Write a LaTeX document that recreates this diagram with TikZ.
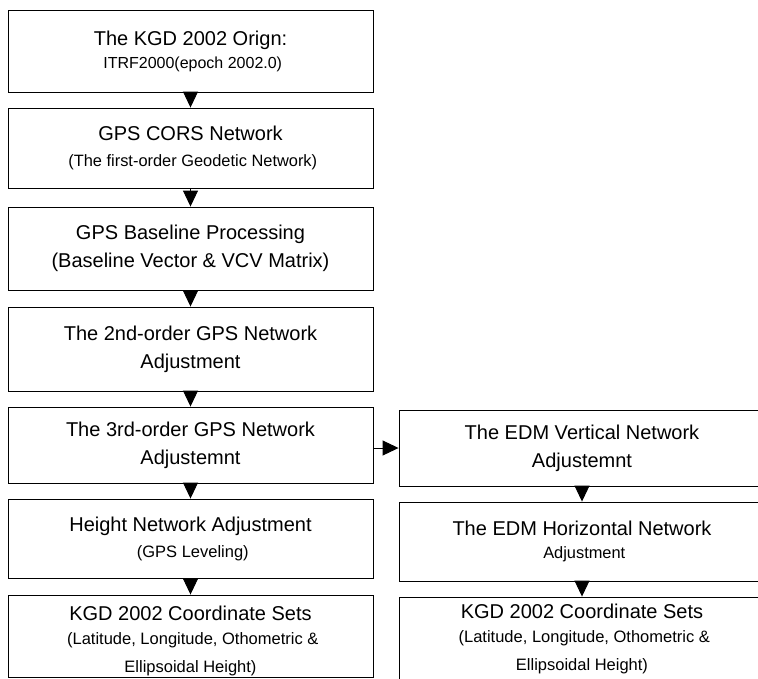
\documentclass[tikz,border=0pt]{standalone}
\usepackage{fontspec}
\setmainfont{Liberation Sans}
\usetikzlibrary{arrows.meta}

\newcommand{\subsize}[1]{\fontsize{#1}{22}\selectfont}

\begin{document}
\begin{tikzpicture}[x=1pt, y=-1pt,
    box/.style={draw, line width=0.9pt, rectangle, inner sep=0pt, align=center,
        font=\fontsize{20}{28}\selectfont},
    leftbox/.style={box, minimum width=365pt},
    rightbox/.style={box, minimum width=366pt},
    arr/.style={line width=0.9pt, -{Triangle[length=16pt, width=15pt]}}]
    \useasboundingbox (0,0) rectangle (758,678);

    % Left column of steps
    \node[leftbox, minimum height=82pt] (L1) at (190.5,51)
        {The KGD 2002 Orign:\\[-5pt]\subsize{16} ITRF2000(epoch 2002.0)};
    \node[leftbox, minimum height=80pt] (L2) at (190.5,148)
        {GPS CORS Network\\[-2pt]\subsize{16.4} (The first-order Geodetic Network)};
    \node[leftbox, minimum height=83pt] (L3) at (190.5,248.5)
        {GPS Baseline Processing\\(Baseline Vector \& VCV Matrix)};
    \node[leftbox, minimum height=84pt] (L4) at (190.5,349)
        {The 2nd-order GPS Network\\Adjustment};
    \node[leftbox, minimum height=76pt] (L5) at (190.5,445)
        {The 3rd-order GPS Network\\Adjustemnt};
    \node[leftbox, minimum height=79pt] (L6) at (190.5,538.5)
        {Height Network Adjustment\\[-2pt]\subsize{16.5} (GPS Leveling)};
    \node[leftbox, minimum height=82pt] (L7) at (190.5,636)
        {\rule{0pt}{24pt}KGD 2002 Coordinate Sets\\[-4pt]\subsize{16.5}
         (Latitude, Longitude, Othometric \&\\\subsize{16.5}Ellipsoidal Height)};

    % Right column of steps
    \node[rightbox, minimum height=76pt] (R1) at (582,448)
        {The EDM Vertical Network\\Adjustemnt};
    \node[rightbox, minimum height=79pt] (R2) at (582,541.5)
        {The EDM Horizontal Network\\[-5pt]\subsize{16.4} Adjustment};
    \node[rightbox, minimum height=84pt] (R3) at (582,639)
        {KGD 2002 Coordinate Sets\\[-4pt]\subsize{16.5}
         (Latitude, Longitude, Othometric \&\\\subsize{16.5}Ellipsoidal Height)};

    % Draw arrows
    \foreach \a/\b in {L1/L2, L2/L3, L3/L4, L4/L5, L5/L6, L6/L7, R1/R2, R2/R3}
        \draw[arr] (\a.south) -- (\b.north);
    \draw[arr] (L5.east |- R1.west) -- (R1.west);
\end{tikzpicture}
\end{document}
